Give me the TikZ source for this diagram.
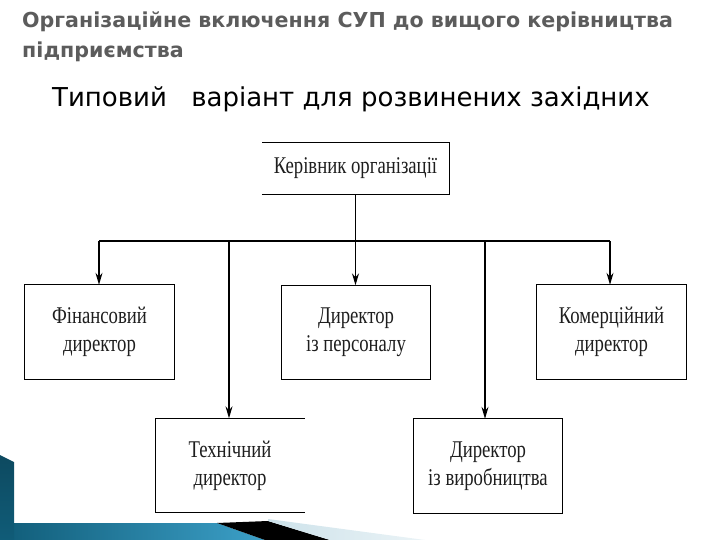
\documentclass[tikz,border=0pt]{standalone}
\usepackage{fontspec}
\setmainfont{Liberation Serif}
\newfontfamily\boxfont[FakeStretch=0.78]{Liberation Serif}
\newfontfamily\titlefont{DejaVu Sans}
\usetikzlibrary{arrows.meta}
\definecolor{titlegray}{RGB}{92,92,92}
\definecolor{boxtext}{RGB}{30,30,30}
\definecolor{tealdark}{RGB}{16,92,120}
\definecolor{teallight}{RGB}{60,160,200}
\definecolor{paleblue}{RGB}{205,226,234}
\begin{document}
\begin{tikzpicture}[x=1pt,y=-1pt,
  orgbox/.style={draw=none,minimum width=149pt,minimum height=94pt,inner sep=0pt,
    align=center,font=\boxfont\fontsize{24}{28}\selectfont,text=boxtext},
  edge/.style={line width=1.2pt,black},
  arr/.style={edge,-{Stealth[length=12pt,width=7pt,inset=4pt]}}]
\useasboundingbox (0,0) rectangle (720,540);
% title
\node[anchor=base west,inner sep=0pt,text=titlegray,font=\titlefont\bfseries\fontsize{20.6}{22}\selectfont] (t1) at (22,28) {Організаційне включення СУП до вищого керівництва};
\node[anchor=base west,inner sep=0pt,text=titlegray,font=\titlefont\bfseries\fontsize{20.6}{22}\selectfont] (t2) at (22,58) {підприємства};
\node[anchor=base west,inner sep=0pt,text=black,font=\titlefont\fontsize{26}{30}\selectfont] (t3) at (52,107) {Типовий\hspace{16pt} варіант для розвинених західних};
% boxes
\node[orgbox,minimum width=187pt,minimum height=51pt] (top) at (355.5,168.5) {Керівник організації};
\node[orgbox] (fin) at (99.5,332) {Фінансовий\\директор};
\node[orgbox] (pers) at (356,332.5) {Директор\\із персоналу};
\node[orgbox] (com) at (611.5,332) {Комерційний\\директор};
\node[orgbox] (tech) at (230,465.5) {Технічний\\директор};
\node[orgbox] (vyr) at (488,466) {Директор\\із виробництва};
% borders
\draw[edge] (top.south west) -- (top.south east) -- (top.north east) -- (top.north west);
\foreach \n in {fin,pers,com,vyr} \draw[edge] (\n.south west) rectangle (\n.north east);
\draw[edge] (tech.north east) -- (tech.north west) -- (tech.south west) -- (tech.south east);
% connectors
\coordinate (busL) at (99,241);
\coordinate (busR) at (610,241);
\coordinate (busC) at (top.south |- busL);
\coordinate (busT) at (229,241);
\coordinate (busV) at (485,241);
\draw[edge] (top.south) -- (busC);
\draw[edge] (busL) -- (busR);
\draw[arr] (busL) -- (busL |- fin.north);
\draw[arr] (busC) -- (busC |- pers.north);
\draw[arr] (busR) -- (busR |- com.north);
\draw[arr] (busT) -- (busT |- tech.north);
\draw[arr] (busV) -- (busV |- vyr.north);
% bottom decoration
\shade[left color=tealdark,right color=teallight] (0,523) -- (217,523) -- (265,540) -- (0,540) -- cycle;
\fill[black] (217,523) -- (268,521) -- (330,540) -- (265,540) -- cycle;
\shade[left color=paleblue,right color=paleblue!40] (268,519) -- (425,540) -- (330,540) -- (268,521) -- cycle;
\shade[top color=tealdark!80!black,bottom color=tealdark] (0,455) -- (14,462) -- (14,540) -- (0,540) -- cycle;
\end{tikzpicture}
\end{document}
